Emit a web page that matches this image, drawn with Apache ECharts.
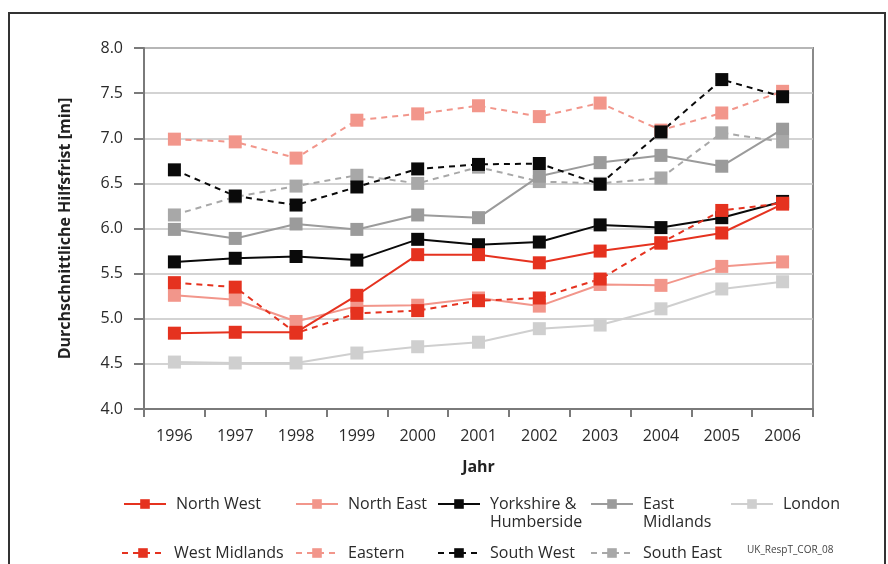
<!DOCTYPE html>
<html>
<head>
<meta charset="utf-8">
<script src="https://cdn.jsdelivr.net/npm/echarts@6/dist/echarts.min.js"></script>
<style>
html,body{margin:0;padding:0;background:#fff;}
#c{width:888px;height:564px;}
</style>
</head>
<body>
<div id="c"></div>
<script>
const years = ['1996','1997','1998','1999','2000','2001','2002','2003','2004','2005','2006'];
const yTicks = [4.0,4.5,5.0,5.5,6.0,6.5,7.0,7.5,8.0];
const northWest    = [4.84,4.85,4.85,5.26,5.71,5.71,5.62,5.75,5.84,5.95,6.27];
const northEast    = [5.26,5.21,4.97,5.14,5.15,5.23,5.14,5.38,5.37,5.58,5.63];
const yorkshire    = [5.63,5.67,5.69,5.65,5.88,5.82,5.85,6.04,6.01,6.12,6.30];
const eastMidlands = [5.99,5.89,6.05,5.99,6.15,6.12,6.58,6.73,6.81,6.69,7.10];
const london       = [4.52,4.51,4.51,4.62,4.69,4.74,4.89,4.93,5.11,5.33,5.41];
const westMidlands = [5.40,5.35,4.84,5.06,5.09,5.20,5.23,5.44,5.84,6.20,6.28];
const eastern      = [6.99,6.96,6.78,7.20,7.27,7.36,7.24,7.39,7.09,7.28,7.52];
const southWest    = [6.65,6.36,6.26,6.46,6.66,6.71,6.72,6.49,7.07,7.65,7.46];
const southEast    = [6.15,6.35,6.47,6.59,6.50,6.68,6.52,6.50,6.56,7.06,6.96];

const FONT = 'Open Sans';
const RED = '#e5321f', SALMON = '#f2968b', BLACK = '#0a0a0a', MID = '#9b9b9b', LIGHT = '#cfcfcf', SE = '#a8a8a8';
const DASH = [6,5];

function mk(name, data, color, dashed) {
  return {
    name: name, type: 'line', data: data,
    symbol: 'rect', symbolSize: 13,
    lineStyle: {color: color, width: 2, type: dashed ? DASH : 'solid'},
    itemStyle: {color: color},
    emphasis: {disabled: true},
    z: 3
  };
}

const series = [
  mk('London', london, LIGHT, false),
  mk('South East', southEast, SE, true),
  mk('East Midlands', eastMidlands, MID, false),
  mk('Eastern', eastern, SALMON, true),
  mk('North East', northEast, SALMON, false),
  mk('South West', southWest, BLACK, true),
  mk('Yorkshire & Humberside', yorkshire, BLACK, false),
  mk('West Midlands', westMidlands, RED, true),
  mk('North West', northWest, RED, false)
];

const legendPos = [
  ['North West', 123, 502, null],
  ['North East', 295, 502, null],
  ['Yorkshire & Humberside', 437, 502, 'Yorkshire &'],
  ['East Midlands', 590, 502, 'East'],
  ['London', 730, 502, null],
  ['West Midlands', 121, 551, null],
  ['Eastern', 295, 551, null],
  ['South West', 437, 551, null],
  ['South East', 590, 551, null]
];

const legends = legendPos.map(function(p){
  return {
    data: [p[0]],
    left: p[1], top: p[2] - 6,
    itemWidth: 42, itemHeight: 12,
    padding: 0,
    selectedMode: false,
    formatter: p[3] ? function(){ return p[3]; } : undefined,
    textStyle: {fontFamily: FONT, fontSize: 16, color: '#2a2a2a', padding: [0,0,0,5]}
  };
});

const chart = echarts.init(document.getElementById('c'));
chart.setOption({
  animation: false,
  backgroundColor: '#fff',
  grid: {left: 144, right: 75, top: 48, bottom: 155, show: true, borderColor: '#8a8a8a', borderWidth: 2},
  legend: legends,
  xAxis: {
    type: 'category', data: years, boundaryGap: true,
    name: 'Jahr', nameLocation: 'middle', nameGap: 50,
    nameTextStyle: {fontFamily: FONT, fontSize: 16, fontWeight: 'bold', color: '#222'},
    axisLine: {lineStyle: {color: '#7a7a7a', width: 2}},
    axisTick: {show: true, length: 8, lineStyle: {color: '#7a7a7a', width: 2}},
    axisLabel: {fontFamily: FONT, fontSize: 16, color: '#2a2a2a', margin: 19},
    splitLine: {show: false}
  },
  yAxis: {
    type: 'value', min: 4, max: 8, interval: 0.5,
    name: 'Durchschnittliche Hilfsfrist [min]', nameLocation: 'middle', nameGap: 71,
    nameTextStyle: {fontFamily: FONT, fontSize: 16, fontWeight: 'bold', color: '#222'},
    axisLine: {show: true, lineStyle: {color: '#7a7a7a', width: 2}},
    axisTick: {show: true, length: 10, lineStyle: {color: '#7a7a7a', width: 2}},
    axisLabel: {fontFamily: FONT, fontSize: 16, color: '#2a2a2a', margin: 21,
      formatter: function(v){ return yTicks.indexOf(v) >= 0 ? v.toFixed(1) : ''; }},
    splitLine: {show: true, lineStyle: {color: '#c4c4c4', width: 1.5}}
  },
  graphic: [
    {type: 'rect', shape: {x: 9, y: 13, width: 876, height: 600}, style: {fill: 'none', stroke: '#333', lineWidth: 2}, silent: true, z: 0},
    {type: 'text', left: 490, top: 514, style: {text: 'Humberside', font: '16px "Open Sans"', fill: '#2a2a2a'}, silent: true},
    {type: 'text', left: 643, top: 514, style: {text: 'Midlands', font: '16px "Open Sans"', fill: '#2a2a2a'}, silent: true},
    {type: 'text', left: 747, top: 545, style: {text: 'UK_RespT_COR_08', font: '10px "Open Sans"', fill: '#444'}, silent: true}
  ],
  series: series
});
</script>
</body>
</html>
